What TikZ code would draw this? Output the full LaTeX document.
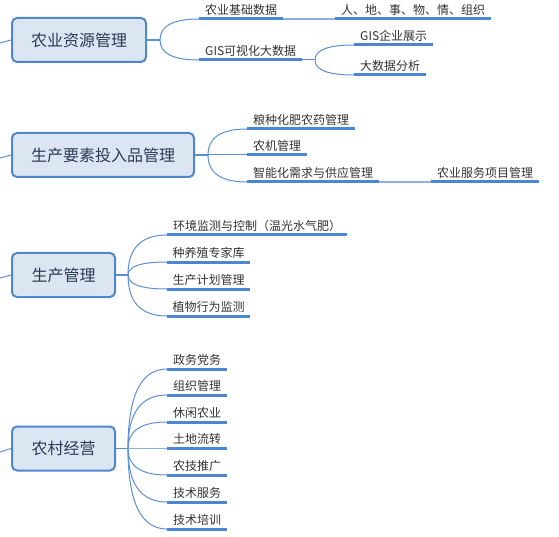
\documentclass[tikz,border=0pt]{standalone}
\usepackage{fontspec}
\setmainfont{Noto Sans CJK SC}
\usetikzlibrary{calc}
\definecolor{boxfill}{HTML}{DCE6F2}
\definecolor{boxline}{HTML}{4F87CF}
\definecolor{linkblue}{HTML}{5A8FD8}
\definecolor{ulblue}{HTML}{4A86D4}
\definecolor{stubblue}{HTML}{8DB1E4}
\definecolor{boxtext}{HTML}{2B3A55}
\definecolor{leaftext}{HTML}{333333}
\tikzset{
  topic/.style={draw=boxline, line width=2pt, fill=boxfill, rounded corners=5pt,
    minimum height=44pt, inner sep=0pt, font=\fontsize{16pt}{18pt}\selectfont, text=boxtext},
  leaf/.style={anchor=south west, inner xsep=0pt, inner ysep=1.5pt, minimum width=#1,
    text height=9pt, text depth=3pt, font=\fontsize{12pt}{14pt}\selectfont, text=leaftext},
  uline/.style={draw=ulblue, line width=3pt},
  trunk/.style={draw=linkblue, line width=1.5pt},
  branch/.style={draw=linkblue, line width=1pt},
  chain/.style={draw=stubblue, line width=1.2pt},
  stub/.style={draw=linkblue, line width=1pt}
}
% quadratic-looking branch from junction #1 to node #2 (corner control)
\newcommand{\mmbranch}[2]{%
  \draw[branch] (#1) .. controls ($(#1)!0.667!(#1 |- #2.south west)$)
     and ($(#2.south west)!0.667!(#1 |- #2.south west)$) .. (#2.south west);}
\begin{document}
\begin{tikzpicture}[x=1pt,y=-1pt]
\useasboundingbox (0,0) rectangle (559,537);

% ---------- topic 1 ----------
\node[topic, minimum width=134pt] (b1) at (79,40) {农业资源管理};
\coordinate (s1) at (0,43);
\coordinate (j1) at (160,40);
\node[leaf=84pt] (a1) at (199,19) {农业基础数据};
\node[leaf=156pt] (a2) at (335,19) {人、地、事、物、情、组织};
\node[leaf=103pt] (a3) at (199,60) {GIS可视化大数据};
\coordinate (j1b) at (315,60);
\node[leaf=79pt] (a4) at (354,45) {GIS企业展示};
\node[leaf=72pt] (a5) at (354,75) {大数据分析};

\draw[stub] (s1) .. controls (6,41) .. (b1.west);
\draw[trunk] (b1.east) -- (j1);
\mmbranch{j1}{a1}
\mmbranch{j1}{a3}
\draw[chain] (a1.south east) -- (a2.south west);
\draw[branch] (a3.south east) -- (j1b);
\mmbranch{j1b}{a4}
\mmbranch{j1b}{a5}

% ---------- topic 2 ----------
\node[topic, minimum width=182pt] (b2) at (103,155) {生产要素投入品管理};
\coordinate (s2) at (0,158);
\coordinate (j2) at (208,155);
\node[leaf=108pt] (c1) at (247,129) {粮种化肥农药管理};
\node[leaf=60pt] (c2) at (247,155) {农机管理};
\node[leaf=132pt] (c3) at (247,182) {智能化需求与供应管理};
\node[leaf=108pt] (c4) at (431,182) {农业服务项目管理};

\draw[stub] (s2) .. controls (6,156) .. (b2.west);
\draw[trunk] (b2.east) -- (j2);
\mmbranch{j2}{c1}
\draw[branch] (j2) -- (c2.south west);
\mmbranch{j2}{c3}
\draw[chain] (c3.south east) -- (c4.south west);

% ---------- topic 3 ----------
\node[topic, minimum width=103pt] (b3) at (63.5,275) {生产管理};
\coordinate (s3) at (0,278);
\coordinate (j3) at (128,275);
\node[leaf=180pt] (d1) at (167,235) {环境监测与控制（温光水气肥）};
\node[leaf=83pt] (d2) at (167,262) {种养殖专家库};
\node[leaf=83pt] (d3) at (167,289) {生产计划管理};
\node[leaf=83pt] (d4) at (167,316) {植物行为监测};

\draw[stub] (s3) .. controls (6,276) .. (b3.west);
\draw[trunk] (b3.east) -- (j3);
\foreach \n in {d1,d2,d3,d4} {\mmbranch{j3}{\n}}

% ---------- topic 4 ----------
\node[topic, minimum width=103pt] (b4) at (63.5,448.5) {农村经营};
\coordinate (s4) at (0,452);
\coordinate (j4) at (128,448.5);
\node[leaf=60pt] (e1) at (167,369) {政务党务};
\node[leaf=60pt] (e2) at (167,395) {组织管理};
\node[leaf=60pt] (e3) at (167,422) {休闲农业};
\node[leaf=60pt] (e4) at (167,448.5) {土地流转};
\node[leaf=60pt] (e5) at (167,475) {农技推广};
\node[leaf=60pt] (e6) at (167,502) {技术服务};
\node[leaf=60pt] (e7) at (167,529) {技术培训};

\draw[stub] (s4) .. controls (6,450) .. (b4.west);
\draw[trunk] (b4.east) -- (j4);
\foreach \n in {e1,e2,e3,e5,e6,e7} {\mmbranch{j4}{\n}}
\draw[chain] (j4) -- (e4.south west);

% ---------- underlines ----------
\foreach \n in {a1,a2,a3,a4,a5,c1,c2,c3,c4,d1,d2,d3,d4,e1,e2,e3,e4,e5,e6,e7}
  \draw[uline] (\n.south west) -- (\n.south east);
\end{tikzpicture}
\end{document}
